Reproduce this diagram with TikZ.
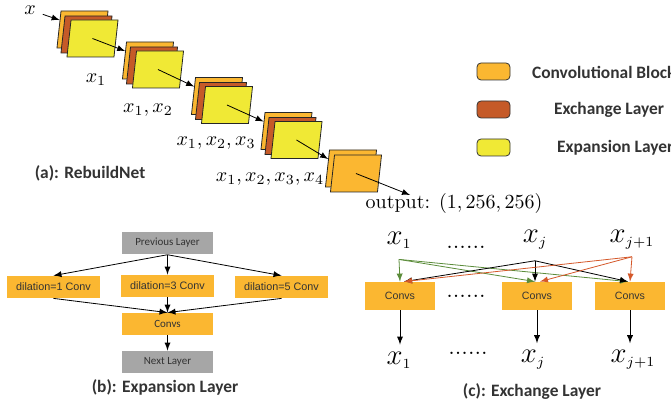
\documentclass[tikz,border=0pt]{standalone}
\usepackage{fontspec}
\setsansfont{Carlito}
\newfontfamily\arialfont{Liberation Sans}
\usetikzlibrary{arrows,calc}
\tikzset{>=latex}
\definecolor{convorange}{HTML}{FBB731}
\definecolor{xchbrown}{HTML}{C55A28}
\definecolor{expyellow}{HTML}{F0E935}
\definecolor{layergray}{HTML}{A6A6A6}
\definecolor{linegreen}{HTML}{5B8C3A}
\definecolor{lineorange}{HTML}{D4582A}
\definecolor{textgray}{HTML}{333333}
\tikzstyle{sheet}=[rectangle,draw=black!85,line width=0.4pt,minimum width=23.5pt,minimum height=18.5pt,inner sep=0pt,xslant=0.11,transform shape]
\tikzstyle{legbox}=[rectangle,draw=black!80,line width=0.4pt,minimum width=16.5pt,minimum height=8.5pt,rounded corners=2pt]
\tikzstyle{graylayer}=[rectangle,fill=layergray,minimum width=45.5pt,minimum height=10pt,font=\sffamily\fontsize{5.5}{6.5}\selectfont,text=textgray]
\tikzstyle{dilconv}=[rectangle,fill=convorange,minimum width=46.5pt,minimum height=11pt,font=\arialfont\fontsize{5.4}{6.5}\selectfont,text=textgray]
\tikzstyle{convsbox}=[rectangle,fill=convorange,minimum width=35pt,minimum height=14pt,font=\arialfont\fontsize{5.3}{6.5}\selectfont,text=textgray]
\tikzstyle{mathlbl}=[font=\fontsize{10}{12}\selectfont]
\tikzstyle{bigmath}=[font=\fontsize{14}{16}\selectfont]
\tikzstyle{legtext}=[anchor=west,font=\sffamily\bfseries\fontsize{8.7}{10}\selectfont,text=textgray]
\tikzstyle{caption}=[font=\sffamily\bfseries\fontsize{8.7}{10}\selectfont,text=textgray]
\newcommand{\ssub}[1]{_{\scriptscriptstyle #1}}

\begin{document}
\begin{tikzpicture}[x=0.5pt,y=-0.5pt,line width=0.4pt]
	\useasboundingbox (0,0) rectangle (671,406);

	% (a) RebuildNet
	\node[mathlbl] (x) at (30,10) {$x$};

	\node[sheet,fill=convorange] (o1) at (82.5,29.5) {};
	\node[sheet,fill=xchbrown] (b1) at (86.5,34.5) {};
	\node[sheet,fill=expyellow] (y1) at (92.5,38.5) {};

	\node[sheet,fill=convorange] (o2) at (148,60.5) {};
	\node[sheet,fill=xchbrown] (b2) at (152,65.5) {};
	\node[sheet,fill=expyellow] (y2) at (158,69.5) {};

	\node[sheet,fill=convorange] (o3) at (217,96) {};
	\node[sheet,fill=xchbrown] (b3) at (221,101) {};
	\node[sheet,fill=expyellow] (y3) at (227,105) {};

	\node[sheet,fill=convorange] (o4) at (286.5,131) {};
	\node[sheet,fill=xchbrown] (b4) at (290.5,136) {};
	\node[sheet,fill=expyellow] (y4) at (296.5,140) {};

	\node[sheet,fill=convorange] (o5) at (351,168.5) {};
	\node[sheet,fill=convorange] (o5f) at (356,173.5) {};

	\draw[->] (x) -- ($(o1.north west)!0.25!(o1.south west)$);
	\draw[->] (y1.center) -- ($(o2.north west)!0.25!(o2.south west)$);
	\draw[->] (y2.center) -- ($(o3.north west)!0.25!(o3.south west)$);
	\draw[->] (y3.center) -- ($(o4.north west)!0.25!(o4.south west)$);
	\draw[->] (y4.center) -- ($(o5.north west)!0.25!(o5.south west)$);
	\coordinate (outtip) at (410,195);
	\draw[->] (o5f.center) -- (outtip);

	\node[mathlbl] (lab1) at (96,80) {$x_1$};
	\node[mathlbl] (lab2) at (148,110) {$x_1, x_2$};
	\node[mathlbl] (lab3) at (216,143) {$x_1, x_2, x_3$};
	\node[mathlbl] (lab4) at (270,179) {$x_1, x_2, x_3, x_4$};
	\node[font=\fontsize{10}{12}\selectfont] (output) at (454,204) {output: $(1, 256, 256)$};
	\node[caption] (capa) at (90,173) {(a): RebuildNet};

	% legend
	\node[legbox,fill=convorange] (leg1) at (493.5,71.5) {};
	\node[legbox,fill=xchbrown] (leg2) at (493.5,109.5) {};
	\node[legbox,fill=expyellow] (leg3) at (493.5,147.5) {};
	\node[legtext] (legt1) at (525,72) {Convolutional Block};
	\node[legtext] (legt2) at (547,110) {Exchange Layer};
	\node[legtext] (legt3) at (550,148) {Expansion Layer};

	% (b) Expansion Layer
	\node[graylayer] (prev) at (167.5,243) {Previous Layer};
	\node[dilconv] (d1) at (53.5,287) {dilation=1 Conv};
	\node[dilconv] (d3) at (167.5,286) {dilation=3 Conv};
	\node[dilconv] (d5) at (281.5,287) {dilation=5 Conv};
	\node[graylayer,fill=convorange,minimum height=11pt] (convs) at (167.5,324) {Convs};
	\node[graylayer] (next) at (167.5,362) {Next Layer};

	\draw[->] (prev.south) -- (d1.north);
	\draw[->] (prev.south) -- (d3.north);
	\draw[->] (prev.south) -- (d5.north);
	\draw[->] (d1.south) -- (convs.north);
	\draw[->] (d3.south) -- (convs.north);
	\draw[->] (d5.south) -- (convs.north);
	\draw[->] (convs.south) -- (next.north);
	\node[caption] (capb) at (165,387) {(b): Expansion Layer};

	% (c) Exchange Layer
	\node[bigmath] (t1) at (399,240) {$x\ssub{1}$};
	\node[font=\fontsize{12}{14}\selectfont] (tdots) at (466,247) {......};
	\node[bigmath] (t2) at (535,240) {$x\ssub{j}$};
	\node[bigmath] (t3) at (632,240) {$x\ssub{j+1}$};

	\node[convsbox] (c1) at (400,296) {Convs};
	\node[font=\fontsize{12}{14}\selectfont] (cdots) at (466,296) {......};
	\node[convsbox] (c2) at (537,296) {Convs};
	\node[convsbox] (c3) at (630,296) {Convs};

	\draw[->,linegreen] ([yshift=-2pt]t1.south) -- (c1.north);
	\draw[->,linegreen] ([yshift=-2pt]t1.south) -- ([xshift=-1pt]c2.north);
	\draw[->,linegreen] ([yshift=-2pt]t1.south) -- ([xshift=-1pt]c3.north);
	\draw[->,black] ([yshift=-2pt]t2.south) -- ([xshift=2pt]c1.north);
	\draw[->,black] ([yshift=-2pt]t2.south) -- ([xshift=-1pt]c2.north);
	\draw[->,black] ([yshift=-2pt]t2.south) -- ([xshift=-1pt]c3.north);
	\draw[->,lineorange] (t3.south) -- ([xshift=2pt]c1.north);
	\draw[->,lineorange] (t3.south) -- ([xshift=1.5pt]c2.north);
	\draw[->,lineorange] (t3.south) -- (c3.north);

	\node[bigmath] (u1) at (399,360) {$x\ssub{1}$};
	\node[font=\fontsize{12}{14}\selectfont] (udots) at (468,353) {......};
	\node[bigmath] (u2) at (533,360) {$x\ssub{j}$};
	\node[bigmath] (u3) at (633,360) {$x\ssub{j+1}$};

	\draw[->] (c1.south) -- (c1.south |- u1.north);
	\draw[->] (c2.south) -- (c2.south |- u2.north);
	\draw[->] (c3.south) -- (c3.south |- u3.north);
	\node[caption] (capc) at (532,392) {(c): Exchange Layer};
\end{tikzpicture}
\end{document}
